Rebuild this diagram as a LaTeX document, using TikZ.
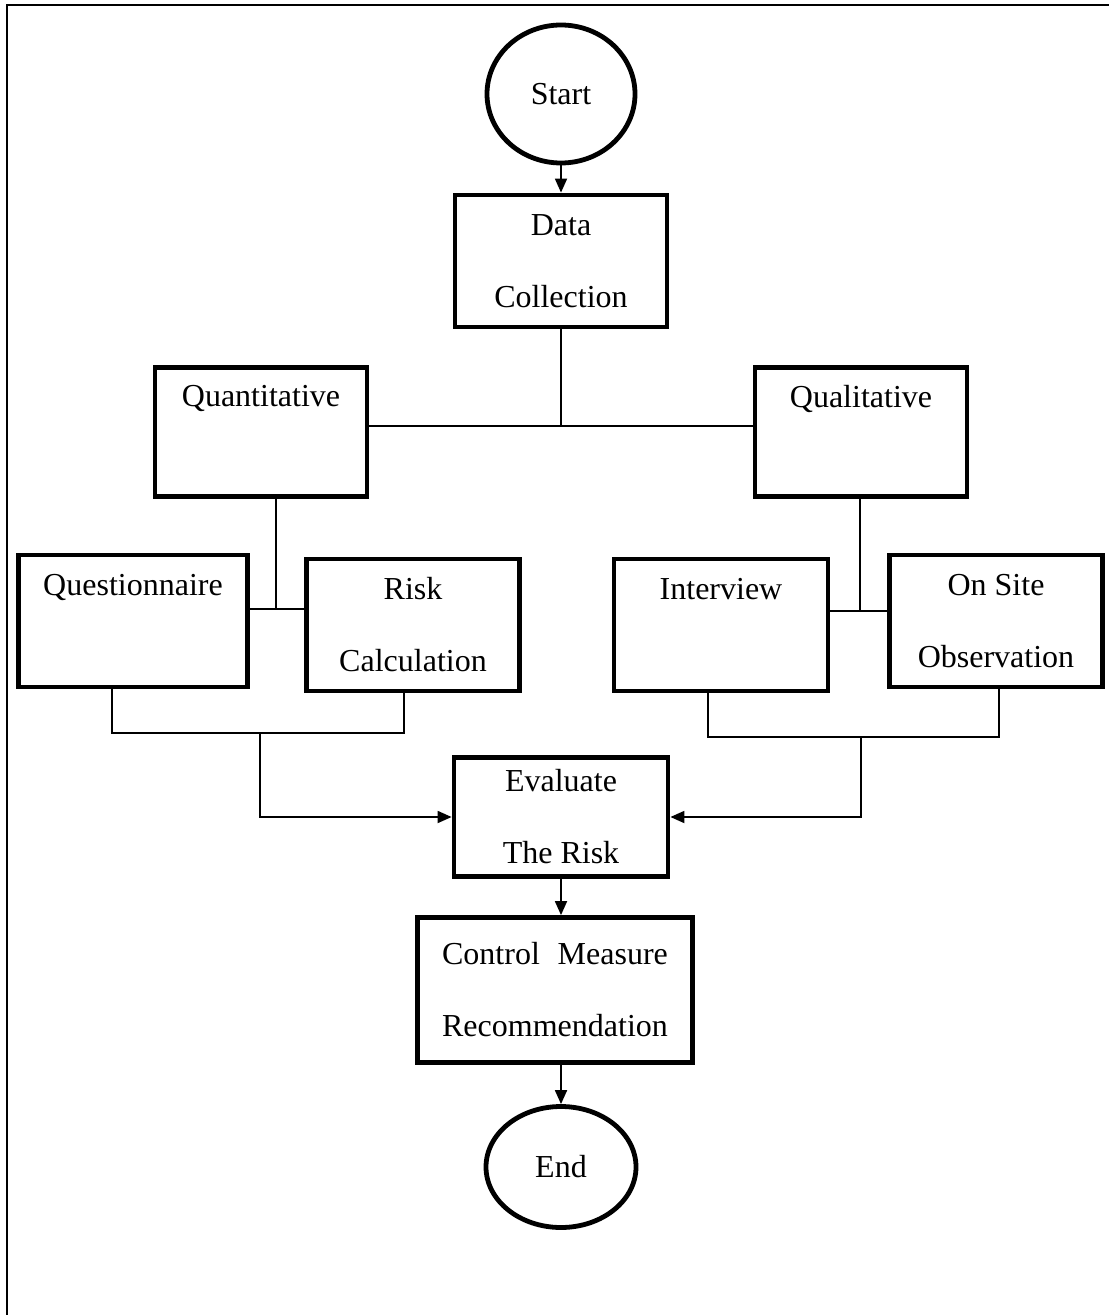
\documentclass[tikz,border=0pt]{standalone}
\usepackage{fontspec}
\usepackage{calc}
\setmainfont{Liberation Serif}
\usepackage{tikz}
\usetikzlibrary{shapes,arrows,positioning,calc,arrows.meta}

\begin{document}
\begin{tikzpicture}[
    x=0.5pt, y=-0.5pt,
    font=\fontsize{16}{36}\selectfont,
    stepbox/.style={rectangle, draw, line width=2.4pt, align=center, inner sep=0pt},
    terminal/.style={ellipse, draw, line width=2.4pt, inner sep=0pt},
    link/.style={line width=0.9pt},
    flow/.style={line width=0.9pt, -{Triangle[length=7pt,width=6pt]}}
]
    \useasboundingbox (0,0) rectangle (1109,1315);
    \draw[line width=1pt] (7,1315) |- (1109,5);

    % terminals
    \node[terminal, minimum width=74pt, minimum height=69pt] (start) at (561,94) {Start};
    \node[terminal, minimum width=75pt, minimum height=60.5pt] (end) at (561,1167) {End};

    % process boxes
    \node[stepbox, minimum width=106pt, minimum height=66pt] (collect) at (561,261) {Data\\ Collection};
    \node[stepbox, minimum width=106pt, minimum height=64.5pt] (quant) at (261,432) {Quantitative\\ ~};
    \node[stepbox, minimum width=106pt, minimum height=64.5pt] (qual) at (861,432) {Qualitative\\ ~};
    \node[stepbox, minimum width=114.5pt, minimum height=66pt] (quest) at (133,621) {Questionnaire\\ ~};
    \node[stepbox, minimum width=106.5pt, minimum height=66pt] (calc) at (413,625) {Risk\\ Calculation};
    \node[stepbox, minimum width=107pt, minimum height=66pt] (interv) at (721,625) {Interview\\ ~};
    \node[stepbox, minimum width=106.5pt, minimum height=66pt] (observ) at (996,621) {On Site\\ Observation};
    \node[stepbox, minimum width=107pt, minimum height=59.5pt] (evaluate) at (561,817) {Evaluate\\ The Risk};
    \node[stepbox, minimum width=137.5pt, minimum height=72.5pt] (control) at (555,990)
        {\makebox[\widthof{Recommendation}][s]{Control Measure}\\ Recommendation};

    % junction points
    \coordinate (split) at (561,426);
    \coordinate (qtJoin) at (276,609);
    \coordinate (qlJoin) at (860,611);
    \coordinate (qtMerge) at (260,733);
    \coordinate (qlMerge) at (861,737);

    % connectors
    \draw[flow] (start) -- (collect);
    \draw[link] (collect) -- (split);
    \draw[link] (quant.east |- split) -- (qual.west |- split);
    \draw[link] (quant.south -| qtJoin) -- (qtJoin);
    \draw[link] (quest.east |- qtJoin) -- (calc.west |- qtJoin);
    \draw[link] (qual.south -| qlJoin) -- (qlJoin);
    \draw[link] (interv.east |- qlJoin) -- (observ.west |- qlJoin);
    \draw[link] (112,687) |- (qtMerge) -| (404,691);
    \draw[link] (708,691) |- (qlMerge) -| (999,687);
    \draw[flow] (qtMerge) |- (evaluate.west);
    \draw[flow] (qlMerge) |- (evaluate.east);
    \draw[flow] (evaluate) -- (evaluate |- control.north);
    \draw[flow] (control.south -| end) -- (end);
\end{tikzpicture}
\end{document}
